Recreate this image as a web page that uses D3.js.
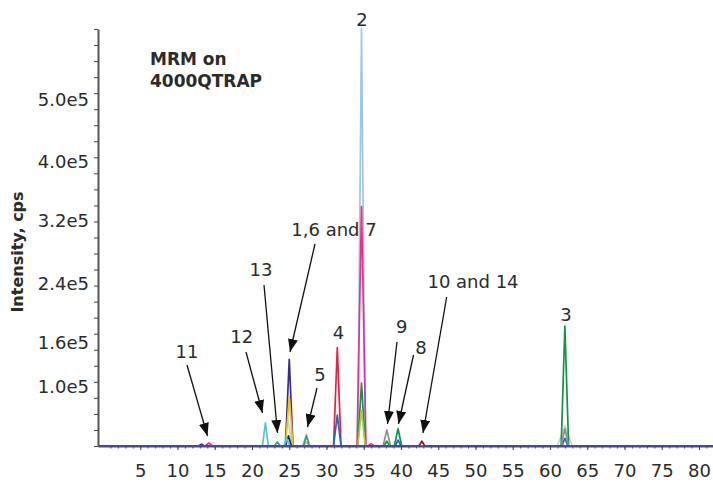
<!doctype html>
<html>
<head>
<script src="https://d3js.org/d3.v7.min.js"></script>
<style>
  body { margin: 0; background: #fff; }
  svg { display: block; font-family: "DejaVu Sans", Verdana, sans-serif; }
</style>
</head>
<body>
<svg width="713" height="482"></svg>
<script>
// retention time (min) range shown and tick labels
var tMin = -0.67, tMax = 81.88;
var xTicks = [5, 10, 15, 20, 25, 30, 35, 40, 45, 50, 55, 60, 65, 70, 75, 80];
var yTickValues = [1.0e5, 1.6e5, 2.4e5, 3.2e5, 4.0e5, 5.0e5];
var yTickLabels = ["1.0e5", "1.6e5", "2.4e5", "3.2e5", "4.0e5", "5.0e5"];

// MRM traces, [time, cps]
var lightBlueTrace = [[tMin,0],[34.2,0],[34.7,616000],[35.2,0],[tMax,0]];
var magentaTrace   = [[tMin,0],[13.7,0],[14.2,5000],[14.7,0],[34.1,0],[34.7,339000],[35.3,0],[35.6,0],[36.0,4000],[36.4,0],[tMax,0]];
var paleGreenTrace = [[tMin,0],[24.3,0],[24.8,47000],[25.4,0],[61.0,0],[62.0,34000],[63.0,0],[tMax,0]];
var indigoTrace    = [[tMin,0],[12.8,0],[13.2,3000],[13.6,0],[24.5,0],[25.0,137000],[25.5,0],[tMax,0]];
var goldTrace      = [[tMin,0],[24.5,0],[25.0,83000],[25.5,0],[26.9,0],[27.3,7000],[27.7,0],[tMax,0]];
var navyTrace      = [[tMin,0],[24.5,0],[24.9,17000],[25.3,0],[tMax,0]];
var cyanTrace      = [[tMin,0],[21.4,0],[21.8,39000],[22.2,0],[24.3,0],[24.7,12000],[25.1,0],[tMax,0]];
var lightGrayTrace = [[tMin,0],[26.8,0],[27.3,20000],[27.8,0],[tMax,0]];
var tealTrace      = [[tMin,0],[23.0,0],[23.4,6700],[23.8,0],[26.9,0],[27.3,17000],[27.7,0],[tMax,0]];
var crimsonTrace   = [[tMin,0],[30.95,0],[31.45,153000],[31.95,0],[tMax,0]];
var steelBlueTrace = [[tMin,0],[30.95,0],[31.45,52000],[31.95,0],[39.2,0],[39.6,10000],[40.0,0],[61.6,0],[62.0,13000],[62.4,0],[tMax,0]];
var greenTrace     = [[tMin,0],[34.2,0],[34.7,105000],[35.2,0],[37.7,0],[38.1,8000],[38.5,0],[39.1,0],[39.6,29000],[40.1,0],[61.5,0],[62.0,182000],[62.5,0],[tMax,0]];
var yellowGreenTrace = [[tMin,0],[34.2,0],[34.7,60700],[35.2,0],[tMax,0]];
var grayTrace      = [[tMin,0],[37.6,0],[38.1,27000],[38.6,0],[61.5,0],[62.0,29000],[62.5,0],[tMax,0]];
var darkRedTrace   = [[tMin,0],[42.4,0],[42.8,8000],[43.2,0],[tMax,0]];

var traces = [
  { d: lightBlueTrace, c: "#9fc6e8" },
  { d: magentaTrace, c: "#e2338e" },
  { d: paleGreenTrace, c: "#b9dcc4" },
  { d: indigoTrace, c: "#3b2a8c" },
  { d: goldTrace, c: "#f2c21c" },
  { d: navyTrace, c: "#1c2b86" },
  { d: cyanTrace, c: "#4fc6d8" },
  { d: lightGrayTrace, c: "#c9c9d2" },
  { d: tealTrace, c: "#2e9e9a" },
  { d: crimsonTrace, c: "#e81f45" },
  { d: steelBlueTrace, c: "#1f6cb0" },
  { d: greenTrace, c: "#16914a" },
  { d: yellowGreenTrace, c: "#a9cf3c" },
  { d: grayTrace, c: "#8e8e8e" },
  { d: darkRedTrace, c: "#8e1a1a" }
];

var svg = d3.select("svg");

var x = d3.scaleLinear().domain([tMin, tMax]).range([98, 713]);
// the published axis is not evenly spaced, so map each label to where it sits
var y = d3.scaleLinear()
    .domain([0].concat(yTickValues))
    .range([446, 386.7, 342.3, 283.3, 220.7, 161.7, 100]);
var yMinor = d3.scaleLinear().domain([0, 26]).range([446, 29]);

var line = d3.line()
    .x(function(d) { return x(d[0]); })
    .y(function(d) { return y(d[1]); });

svg.append("g").selectAll("path")
    .data(traces)
    .enter().append("path")
    .attr("d", function(d) { return line(d.d); })
    .attr("fill", "none")
    .attr("stroke", function(d) { return d.c; })
    .attr("stroke-width", 1.7)
    .attr("stroke-linejoin", "round");

// y axis
var gy = svg.append("g").attr("transform", "translate(98,0)");
gy.call(d3.axisLeft(yMinor).ticks(26).tickSize(4).tickSizeOuter(0).tickFormat(""));
gy.select(".domain").attr("stroke", "#555").attr("stroke-width", 2);
gy.selectAll(".tick line").attr("stroke", "#444");

var gyl = svg.append("g").attr("transform", "translate(98,0)");
gyl.call(d3.axisLeft(y).tickValues(yTickValues)
    .tickFormat(function(d, i) { return yTickLabels[i]; })
    .tickSize(0).tickPadding(9));
gyl.select(".domain").remove();
gyl.selectAll("text").attr("font-size", 18).attr("fill", "#2b2b2b")
    .attr("font-family", "DejaVu Sans, Verdana, sans-serif");

// x axis
var gxm = svg.append("g").attr("transform", "translate(0,446)");
gxm.call(d3.axisBottom(x).tickValues(d3.range(1, 82)).tickSize(2.5).tickSizeOuter(0).tickFormat(""));
gxm.select(".domain").remove();
gxm.selectAll(".tick line").attr("stroke", "#444");

var gx = svg.append("g").attr("transform", "translate(0,446)");
gx.call(d3.axisBottom(x).tickValues(xTicks).tickSize(4).tickSizeOuter(0).tickPadding(14.5));
gx.select(".domain").attr("stroke", "#4b4b8c").attr("stroke-width", 2);
gx.selectAll(".tick line").attr("stroke", "#444");
gx.selectAll("text").attr("font-size", 18).attr("fill", "#2b2b2b")
    .attr("font-family", "DejaVu Sans, Verdana, sans-serif");

// axis title
svg.append("text")
    .attr("transform", "translate(23,252) rotate(-90)")
    .attr("text-anchor", "middle")
    .attr("font-size", 16).attr("font-weight", "bold").attr("fill", "#2b2b2b")
    .text("Intensity, cps");

// instrument note
var note = svg.append("text")
    .attr("font-size", 17).attr("font-weight", "bold").attr("fill", "#2b2b2b");
note.append("tspan").attr("x", 150).attr("y", 65).text("MRM on");
note.append("tspan").attr("x", 150).attr("y", 87).text("4000QTRAP");

// peak annotations
svg.append("defs").append("marker")
    .attr("id", "arr").attr("viewBox", "0 0 13 10")
    .attr("refX", 13).attr("refY", 5)
    .attr("markerWidth", 13).attr("markerHeight", 10)
    .attr("markerUnits", "userSpaceOnUse").attr("orient", "auto")
  .append("path").attr("d", "M0,0L13,5L0,10Z").attr("fill", "#111");

var notes = [
  { s: "2", tx: 362, ty: 20 },
  { s: "3", tx: 566, ty: 315 },
  { s: "4", tx: 338.5, ty: 333 },
  { s: "11", tx: 187, ty: 352, x1: 187, y1: 365, x2: 207.5, y2: 436 },
  { s: "12", tx: 241.7, ty: 336.7, x1: 246, y1: 352, x2: 262.5, y2: 413 },
  { s: "13", tx: 261, ty: 270, x1: 264, y1: 285, x2: 277.5, y2: 433 },
  { s: "1,6 and 7", tx: 334, ty: 230, x1: 315, y1: 244, x2: 290, y2: 352 },
  { s: "5", tx: 320, ty: 375, x1: 317, y1: 388, x2: 307.5, y2: 427 },
  { s: "9", tx: 401.7, ty: 326.7, x1: 397, y1: 342, x2: 387.5, y2: 424 },
  { s: "8", tx: 421, ty: 347.3, x1: 413.5, y1: 355, x2: 398.5, y2: 424 },
  { s: "10 and 14", tx: 473, ty: 281.7, x1: 446.7, y1: 297, x2: 423, y2: 433 }
];

svg.append("g").selectAll("line")
    .data(notes.filter(function(d) { return d.x1 != null; }))
    .enter().append("line")
    .attr("x1", function(d) { return d.x1; }).attr("y1", function(d) { return d.y1; })
    .attr("x2", function(d) { return d.x2; }).attr("y2", function(d) { return d.y2; })
    .attr("stroke", "#111").attr("stroke-width", 1.3)
    .attr("marker-end", "url(#arr)");

svg.append("g").selectAll("text")
    .data(notes)
    .enter().append("text")
    .attr("x", function(d) { return d.tx; })
    .attr("y", function(d) { return d.ty; })
    .attr("dy", "0.36em")
    .attr("text-anchor", "middle")
    .attr("font-size", 18).attr("fill", "#2b2b2b")
    .text(function(d) { return d.s; });
</script>
</body>
</html>
